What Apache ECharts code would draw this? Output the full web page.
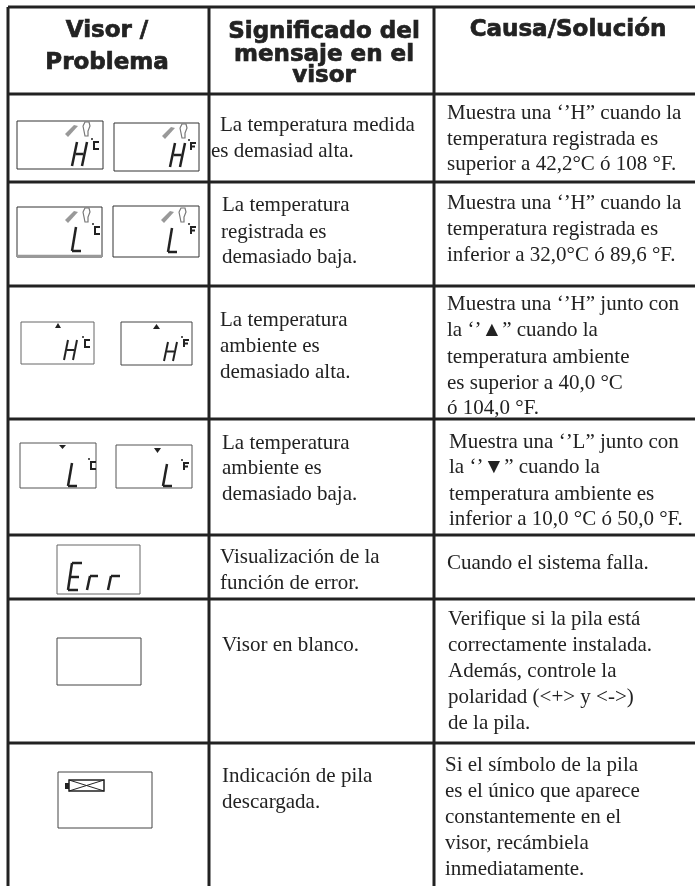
<!DOCTYPE html>
<html><head><meta charset="utf-8">
<style>html,body{margin:0;padding:0;background:#fff}#c{width:695px;height:886px}</style>
<script src="https://cdn.jsdelivr.net/npm/echarts@6/dist/echarts.min.js"></script>
</head><body><div id="c"></div>
<script>
var headerCol1 = ['Visor /', 'Problema'];
var headerCol2 = ['Significado del', 'mensaje en el', 'visor'];
var headerCol3 = ['Causa/Solución'];
var meaningRows = [
 ['La temperatura medida', 'es demasiad alta.'],
 ['La temperatura', 'registrada es', 'demasiado baja.'],
 ['La temperatura', 'ambiente es', 'demasiado alta.'],
 ['La temperatura', 'ambiente es', 'demasiado baja.'],
 ['Visualización de la', 'función de error.'],
 ['Visor en blanco.'],
 ['Indicación de pila', 'descargada.']
];
var causeRows = [
 ['Muestra una ‘’H” cuando la', 'temperatura registrada es', 'superior a 42,2°C ó 108 °F.'],
 ['Muestra una ‘’H” cuando la', 'temperatura registrada es', 'inferior a 32,0°C ó 89,6 °F.'],
 ['Muestra una ‘’H” junto con', 'la ‘’▲” cuando la', 'temperatura ambiente', 'es superior a 40,0 °C', 'ó 104,0 °F.'],
 ['Muestra una ‘’L” junto con', 'la ‘’▼” cuando la', 'temperatura ambiente es', 'inferior a 10,0 °C ó 50,0 °F.'],
 ['Cuando el sistema falla.'],
 ['Verifique si la pila está', 'correctamente instalada.', 'Además, controle la', 'polaridad (<+> y <->)', 'de la pila.'],
 ['Si el símbolo de la pila', 'es el único que aparece', 'constantemente en el', 'visor, recámbiela', 'inmediatamente.']
];

/* layout only */
var INK = '#222';
var serif = '"Liberation Serif", serif';
var heavy = '"DejaVu Sans", sans-serif';
var colX = [8, 209, 434];
var rowY = [7, 94, 182, 286, 419, 535, 599, 743];
var meaningPos = [
 [[220,125],[211,151]],
 [[222,205],[221,232],[222,257]],
 [[220,320],[220,346],[220,372]],
 [[222,443],[222,468],[222,494]],
 [[220,557],[220,583]],
 [[222,645]],
 [[222,776],[222,802]]
];
var causeX = [447,447,447,449,447,448,445];
var causeY = [
 [113,139,164],[203,229,255],[304,330,357,383,408],
 [442,467,494,519],[563],[619,645,671,697,723],[765,791,817,843,869]
];
var els = [];
function ln(x1,y1,x2,y2,w,c){els.push({type:'line',shape:{x1:x1,y1:y1,x2:x2,y2:y2},style:{stroke:c||INK,lineWidth:w}});}
function txt(s,x,y,font,align,bold){var st={text:s,x:0,y:0,font:font,fill:INK,align:align||'left',verticalAlign:'middle'};if(bold){st.stroke=INK;st.lineWidth=bold;}els.push({type:'text',x:x,y:y,style:st});}
function box(x1,y1,x2,y2,c,w){els.push({type:'rect',shape:{x:x1,y:y1,width:x2-x1,height:y2-y1},style:{fill:'#fff',stroke:c||'#333',lineWidth:w||1}});}
function tri(pts){els.push({type:'polygon',shape:{points:pts},style:{fill:INK}});}

// rules
ln(8,7,695,7,3);
rowY.slice(1).forEach(function(y){ln(8,y,695,y,3);});
colX.forEach(function(x){ln(x,7,x,886,3);});

// headers
var hf = 'bold 23px '+heavy;
txt(headerCol1[0],107,31,hf,'center',0.7);
txt(headerCol1[1],107,63,hf,'center',0.7);
txt(headerCol2[0],324,32,hf,'center',0.7);
txt(headerCol2[1],324,55,hf,'center',0.7);
txt(headerCol2[2],324,76,hf,'center',0.7);
txt(headerCol3[0],568,30,hf,'center',0.7);

// body
var bf = '21px '+serif;
meaningRows.forEach(function(r,i){r.forEach(function(s,j){txt(s,meaningPos[i][j][0],meaningPos[i][j][1],bf);});});
causeRows.forEach(function(r,i){r.forEach(function(s,j){txt(s,causeX[i],causeY[i][j],bf);});});

// LCD glyphs
function H(x,y,w,h,s,lw){lw=lw||2.5;ln(x,y,x+s,y-h,lw);ln(x+w,y,x+w+s,y-h,lw);ln(x+s/2+1,y-h/2,x+w+s/2-1,y-h/2,lw);}
function L(x,y,w,h,s){ln(x,y,x+s,y-h,2.5);ln(x,y,x+w,y,2.5);}
function unit(x,y,f){ // degree dot + C or F
  ln(x,y-3,x+2,y-3,1.5);
  ln(x+3,y,x+3,y+7,2);ln(x+2,y,x+8,y,2);
  if(f){ln(x+3,y+3.5,x+7,y+3.5,2);}else{ln(x+2,y+7,x+8,y+7,2);}
}
function icons(x,y){ // probe and ear
  els.push({type:'polygon',shape:{points:[[x,y+9],[x+9,y],[x+13,y+1],[x+3,y+12]]},style:{fill:'#999'}});
  els.push({type:'polyline',shape:{points:[[x+18,y+1],[x+20,y-3],[x+24,y-3],[x+25,y+1],[x+23,y+6],[x+23,y+11],[x+20,y+11],[x+19,y+6],[x+18,y+1]]},style:{stroke:'#777',fill:'none',lineWidth:1.2}});
}
// row 1
box(17,121,103,169); box(114,123,199,171);
icons(65,125); icons(162,127);
H(72,166,10,24,5); H(170,167,10,24,5);
unit(91,142,false); unit(188,143,true);
// row 2
box(17,207,102,257); ln(17,256,102,256,2.5,'#999'); box(113,206,199,257);
icons(65,211); icons(161,211);
L(72,251,9,24,4); L(168,252,9,24,4);
unit(92,227,false); unit(188,227,true);
// row 3
box(21,322,94,364,'#666'); box(121,322,192,365,'#444');
tri([[55,328],[61,328],[58,323]]); tri([[153,329],[160,329],[156.5,324]]);
H(64,360,9,20,4,2); H(164,361,9,19,4,2);
unit(82,340,false); unit(181,340,true);
// row 4
box(20,443,96,488,'#555'); box(116,445,192,488,'#555');
tri([[59,445],[66,445],[62.5,449]]); tri([[154,448],[161,448],[157.5,453]]);
L(68,486,9,23,4); L(163,486,9,22,4);
unit(88,462,false); unit(181,463,true);
// row 5
box(57,545,140,594,'#666');
ln(68,590,72,563,2.5); ln(72,563,82,563,2.5); ln(70,577,79,577,2.5); ln(68,590,78,590,2.5);
ln(87,590,90,576,2.5); ln(90,576,98,576,2.5);
ln(108,590,111,576,2.5); ln(111,576,120,576,2.5);
// row 6
box(57,638,141,685,'#444');
// row 7
box(58,772,152,828,'#444');
els.push({type:'rect',shape:{x:65,y:783,width:4,height:6},style:{fill:INK}});
els.push({type:'rect',shape:{x:69,y:780,width:35,height:11},style:{fill:'#fff',stroke:INK,lineWidth:1.5}});
ln(69,780,104,791,1); ln(69,791,104,780,1);

var chart = echarts.init(document.getElementById('c'),null,{renderer:'canvas'});
chart.setOption({backgroundColor:'#fff',animation:false,graphic:{elements:els}});
</script></body></html>
